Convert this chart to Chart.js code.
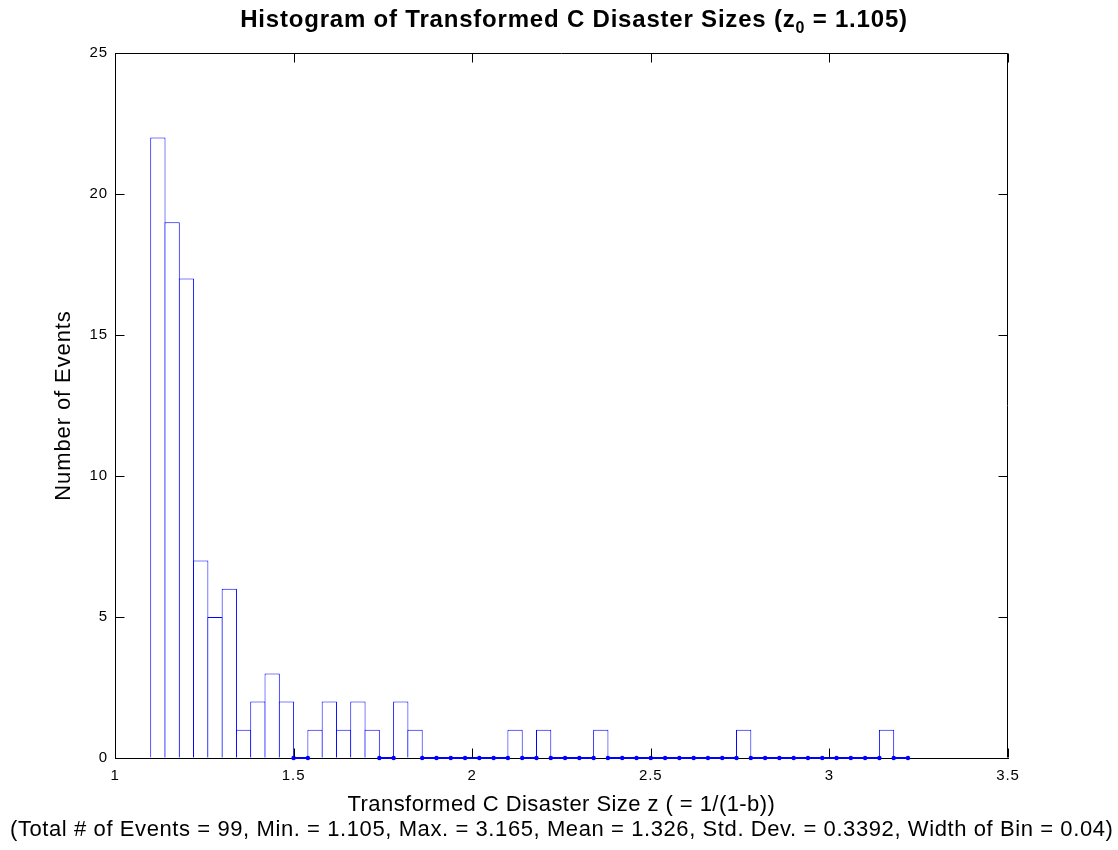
<!DOCTYPE html>
<html>
<head>
<meta charset="utf-8">
<script src="https://cdn.jsdelivr.net/npm/chart.js@4.4.1/dist/chart.umd.min.js"></script>
<style>
  html, body { margin: 0; padding: 0; background: #fff; }
  #wrap { width: 1118px; height: 850px; position: relative; }
</style>
</head>
<body>
<div id="wrap"><canvas id="c"></canvas></div>
<script>
// ---- data ----
const binCenters = [
  1.12, 1.16, 1.20, 1.24, 1.28, 1.32, 1.36, 1.40, 1.44, 1.48,
  1.52, 1.56, 1.60, 1.64, 1.68, 1.72, 1.76, 1.80, 1.84, 1.88,
  1.92, 1.96, 2.00, 2.04, 2.08, 2.12, 2.16, 2.20, 2.24, 2.28,
  2.32, 2.36, 2.40, 2.44, 2.48, 2.52, 2.56, 2.60, 2.64, 2.68,
  2.72, 2.76, 2.80, 2.84, 2.88, 2.92, 2.96, 3.00, 3.04, 3.08,
  3.12, 3.16, 3.20
];
const counts = [
  22, 19, 17, 7, 5, 6, 1, 2, 3, 2,
  0, 1, 2, 1, 2, 1, 0, 2, 1, 0,
  0, 0, 0, 0, 0, 1, 0, 1, 0, 0,
  0, 1, 0, 0, 0, 0, 0, 0, 0, 0,
  0, 1, 0, 0, 0, 0, 0, 0, 0, 0,
  0, 1, 0
];
const binWidth = 0.04;
const xTicks = [1, 1.5, 2, 2.5, 3, 3.5];
const yTicks = [0, 5, 10, 15, 20, 25];
const titleMain = 'Histogram of Transformed C Disaster Sizes (z';
const titleSub = '0';
const titleTail = ' = 1.105)';
const xTitle = [
  'Transformed C Disaster Size z ( = 1/(1-b))',
  '(Total # of Events = 99, Min. = 1.105, Max. = 3.165, Mean = 1.326, Std. Dev. = 0.3392, Width of Bin = 0.04)'
];
const yTitle = 'Number of Events';

// ---- derived ----
const barData = binCenters.map((x, i) => ({ x: x, y: counts[i] }));
const zeroLine = [];
let lastEdge = null;
binCenters.forEach((c, i) => {
  if (counts[i] !== 0) return;
  const l = +(c - binWidth / 2).toFixed(4), r = +(c + binWidth / 2).toFixed(4);
  const joined = lastEdge !== null && Math.abs(lastEdge - l) < 1e-6;
  if (lastEdge !== null && !joined) zeroLine.push({ x: (lastEdge + l) / 2, y: null });
  if (!joined) zeroLine.push({ x: l, y: 0 });
  zeroLine.push({ x: r, y: 0 });
  lastEdge = r;
});

const FONT = "'Liberation Sans', Arial, Helvetica, sans-serif";
const BLUE = '#0000ff';

const spacingPlugin = {
  id: 'spacing',
  beforeDraw(chart) { chart.ctx.letterSpacing = '0.9px'; }
};

function fitText(ctx, text, cx, y, targetW) {
  ctx.letterSpacing = '0px';
  const w = ctx.measureText(text).width;
  const sp = Math.max(-1, (targetW - w) / text.length);
  ctx.letterSpacing = sp.toFixed(2) + 'px';
  ctx.textAlign = 'left';
  ctx.fillText(text, cx - targetW / 2, y);
}

const framePlugin = {
  id: 'frame',
  afterDraw(chart) {
    const { ctx, chartArea: a, scales } = chart;
    ctx.save();
    ctx.strokeStyle = '#000';
    ctx.lineWidth = 1;
    const L = Math.round(a.left) + 0.5, R = Math.round(a.right) - 0.5;
    const T = Math.round(a.top) + 0.5, B = Math.round(a.bottom) - 0.5;
    ctx.beginPath();
    ctx.moveTo(L, T); ctx.lineTo(R, T); ctx.lineTo(R, B);
    const tl = 9;
    xTicks.forEach(v => {
      const px = Math.round(scales.x.getPixelForValue(v)) + 0.5;
      ctx.moveTo(px, B); ctx.lineTo(px, B - tl);
      ctx.moveTo(px, T); ctx.lineTo(px, T + tl);
    });
    yTicks.forEach(v => {
      const py = Math.round(scales.y.getPixelForValue(v)) + 0.5;
      ctx.moveTo(L, py); ctx.lineTo(L + tl, py);
      ctx.moveTo(R, py); ctx.lineTo(R - tl, py);
    });
    ctx.stroke();

    ctx.fillStyle = '#000';
    ctx.textBaseline = 'alphabetic';

    // x-axis title lines
    const cxPlot = (a.left + a.right) / 2;
    ctx.font = '22px ' + FONT;
    fitText(ctx, xTitle[0], cxPlot, 811, 428);
    fitText(ctx, xTitle[1], cxPlot, 836, 1103);

    // title with subscript
    ctx.letterSpacing = '0.8px';
    const big = 'bold 24px ' + FONT, small = 'bold 16px ' + FONT;
    ctx.font = big;
    const w1 = ctx.measureText(titleMain).width;
    const w3 = ctx.measureText(titleTail).width;
    ctx.font = small;
    const w2 = ctx.measureText(titleSub).width;
    const total = w1 + w2 + w3;
    let x = 574 - total / 2;
    const base = 27;
    ctx.textAlign = 'left';
    ctx.font = big; ctx.fillText(titleMain, x, base); x += w1;
    ctx.font = small; ctx.fillText(titleSub, x, base + 6); x += w2;
    ctx.font = big; ctx.fillText(titleTail, x, base);
    ctx.restore();
  }
};

new Chart(document.getElementById('c'), {
  type: 'bar',
  data: {
    datasets: [
      {
        type: 'line',
        data: zeroLine,
        borderColor: BLUE,
        backgroundColor: BLUE,
        borderWidth: 2,
        pointRadius: 2.2,
        pointBorderWidth: 0,
        pointBackgroundColor: BLUE,
        spanGaps: false,
        tension: 0,
        clip: false,
        order: 0
      },
      {
        type: 'bar',
        data: barData,
        backgroundColor: '#ffffff',
        borderColor: BLUE,
        borderWidth: 1,
        borderSkipped: 'start',
        inflateAmount: 0,
        barPercentage: 1.07,
        categoryPercentage: 1,
        order: 1
      }
    ]
  },
  options: {
    responsive: true,
    maintainAspectRatio: false,
    animation: false,
    events: [],
    layout: { padding: { top: 53, right: 110, left: 0, bottom: 0 } },
    plugins: { legend: { display: false }, tooltip: { enabled: false }, title: { display: false } },
    scales: {
      x: {
        type: 'linear',
        min: 1, max: 3.5,
        offset: false,
        afterFit(s) { s.height = 92; },
        afterBuildTicks(s) { s.ticks = xTicks.map(v => ({ value: v })); },
        grid: { display: true, drawOnChartArea: false, drawTicks: false, offset: false },
        border: { display: true, color: '#000', width: 1 },
        ticks: {
          color: '#000', padding: 9, maxRotation: 0, autoSkip: false,
          font: { family: FONT, size: 15 },
          callback: v => String(v)
        },
        title: { display: false }
      },
      y: {
        type: 'linear',
        min: 0, max: 25,
        afterFit(s) { s.width = 115; },
        afterBuildTicks(s) { s.ticks = yTicks.map(v => ({ value: v })); },
        grid: { display: true, drawOnChartArea: false, drawTicks: false },
        border: { display: true, color: '#000', width: 1 },
        ticks: {
          color: '#000', padding: 7,
          font: { family: FONT, size: 15 },
          callback: v => String(v)
        },
        title: {
          display: true, text: yTitle, color: '#000',
          font: { family: FONT, size: 22, lineHeight: 1.2 },
          padding: { top: 51, bottom: 0 }
        }
      }
    }
  },
  plugins: [spacingPlugin, framePlugin]
});
</script>
</body>
</html>
